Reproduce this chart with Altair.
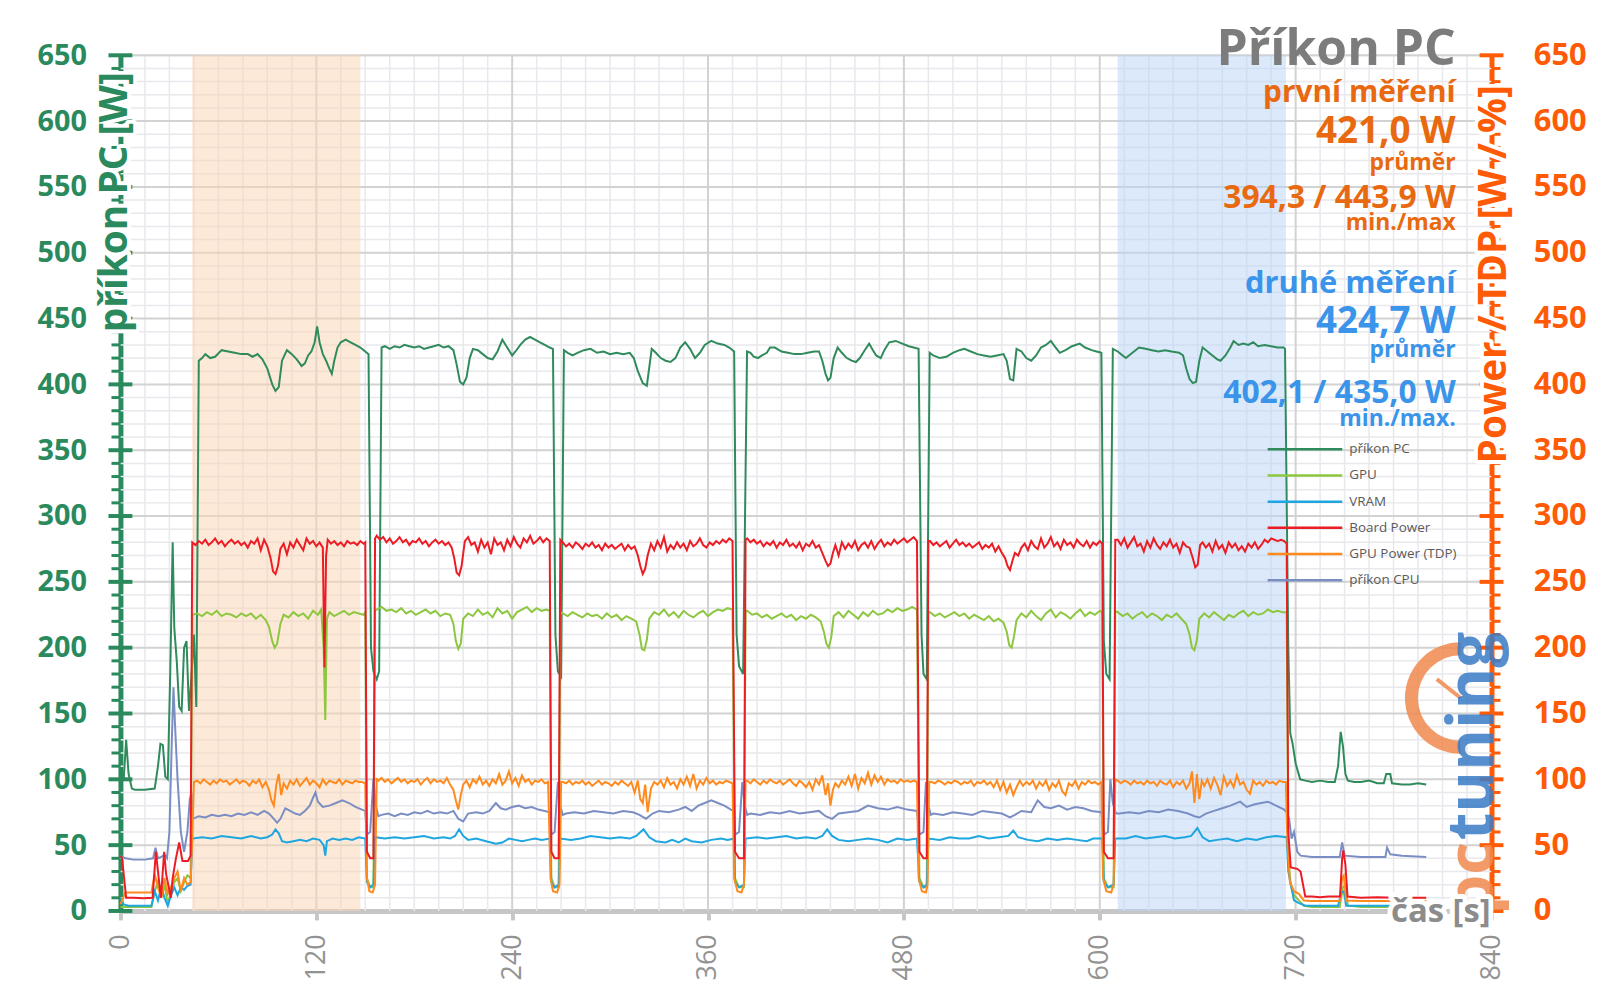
import altair as alt
import pandas as pd

# ---------------- data (time [s], value [W]) ----------------
pc_data = [
    (0, 98), (2, 100), (3.5, 130), (5, 104), (7, 93), (9, 92), (15, 92), (21, 93), (23, 110), (24.5, 127),
    (26, 126), (27.5, 102), (29, 100), (30.5, 180), (32, 280), (33, 215), (34.5, 190), (36, 155), (37.5, 152),
    (39, 200), (40.5, 205), (42, 152), (43.5, 178), (45, 210), (46.5, 155), (48, 418),
    (50, 420), (52, 423), (55, 420), (58, 421), (62, 426), (66, 425), (70, 424), (74, 423), (78, 423), (81, 421),
    (84, 423), (87, 419), (90, 412), (93, 400), (95, 395), (97, 398), (99, 418), (102, 426), (105, 423), (108, 419),
    (111, 414), (113, 416), (115, 422), (117, 425), (119, 432), (120.5, 444), (122, 432), (124, 423), (126, 418),
    (128, 412), (129.5, 408), (131, 418), (133, 428), (135, 432), (138, 434), (141, 432), (144, 430), (147, 428),
    (150, 425), (152, 423),
    (153.5, 200), (155, 182), (157, 176), (158.5, 182), (160, 428),
    (162, 429), (165, 427), (168, 429), (171, 428), (174, 430), (177, 429), (180, 428), (183, 429), (186, 427),
    (189, 428), (192, 429), (195, 430), (198, 428), (201, 429), (204, 426), (206, 415), (208, 402), (210, 400),
    (212, 405), (214, 420), (216, 427), (219, 426), (222, 423), (225, 420), (228, 419), (231, 425), (234, 434),
    (236, 430), (238, 426), (240, 422), (242, 425), (245, 430), (248, 434), (251, 436), (254, 434), (257, 432),
    (260, 430), (263, 428), (265, 427),
    (266.5, 210), (268, 182), (270, 178), (271.7, 426),
    (274, 424), (277, 422), (280, 424), (284, 426), (288, 427), (292, 424), (296, 425), (300, 423), (304, 424),
    (308, 423), (312, 424), (314.5, 420), (317, 410), (320, 401), (322.5, 399), (325.5, 427), (328, 424),
    (331, 420), (334, 418), (337, 417), (340, 420), (343, 428), (346, 432), (349, 427), (352, 420), (355, 424),
    (358, 430), (362, 433), (366, 431), (370, 430), (373, 428), (376, 425),
    (377.5, 210), (379, 186), (381.5, 180), (383.9, 425),
    (386, 424), (388, 421), (390.6, 420), (393, 422), (396, 424), (398, 428), (401, 428), (405, 425), (409, 424),
    (413, 423), (417, 423), (421, 424), (425, 425), (428, 425), (430, 418), (432, 408), (433.5, 403), (435, 405),
    (437, 420), (439.4, 428), (442, 424), (445, 420), (448, 418), (450.6, 417), (453, 420), (456, 426),
    (458.7, 431), (461, 426), (463, 422), (465.8, 420), (468, 426), (471, 432), (475, 433), (479, 431),
    (483, 429), (486, 428), (489, 427),
    (490.8, 210), (492, 180), (494, 176), (495.8, 424),
    (498, 422), (502, 420), (506, 421), (510, 424), (514, 426), (517, 427), (521, 425), (525, 423), (529, 422),
    (533, 421), (537, 422), (541, 423), (543, 418), (545, 404), (547, 403), (549, 427), (552, 425), (555, 420),
    (558, 418), (561, 422), (564, 428), (567, 430), (570, 433), (573, 428), (575.5, 424), (579, 426), (583, 429),
    (587.7, 431), (591, 428), (595, 426), (598, 425), (601, 424),
    (602.5, 205), (604, 180), (606, 176), (608, 427),
    (611, 425), (614, 422), (616, 420), (620, 424), (624, 428), (628, 427), (632, 426), (636, 425), (640, 426),
    (644, 425), (648.6, 424), (651, 422), (653, 412), (655, 404), (657, 401), (659, 402), (661, 418), (663, 428),
    (666, 425), (669, 422), (672, 419), (674, 418), (677, 422), (680, 428), (682, 433), (685, 430), (688, 431),
    (691, 430), (694, 432), (697, 429), (701, 430), (705, 429), (709, 428), (712.6, 428), (713.5, 427),
    (715.5, 200), (716.7, 135), (718, 128), (720, 112), (722.8, 100), (726, 99), (730, 98), (735, 99), (740, 98),
    (744, 98), (746, 110), (747.6, 136), (749, 125), (750.5, 104), (752, 99), (756, 98), (760, 98), (765, 99),
    (770, 97), (774, 97), (775.5, 104), (778, 104), (779, 97), (785, 96), (790, 96), (795, 97), (800, 96),
]

board_data = [
    (0, 42), (1, 40), (3.5, 10), (8, 10), (14, 9.7), (19.7, 10), (21.7, 45), (23, 30), (24.8, 10), (26.8, 45),
    (28, 28), (30.9, 10), (32, 25), (34, 40), (36, 52), (38, 38), (41.4, 38), (43, 42), (44, 280),
    (46, 278), (48, 281), (50, 279), (52, 282), (54, 278), (56, 280), (58, 283), (60, 279), (62, 281), (64, 277),
    (66, 280), (68, 282), (70, 279), (72, 281), (74, 278), (76, 280), (78, 276), (80, 281), (82, 279), (84, 283),
    (86, 274), (88, 282), (90, 277), (92, 268), (93.5, 258), (95, 256), (96.5, 262), (98, 275), (100, 279),
    (102, 271), (104, 280), (106, 276), (108, 282), (110, 278), (112, 274), (114, 283), (116, 279), (118, 281),
    (120, 277), (122, 280), (124, 276), (125, 185), (126, 270), (127, 282), (129, 279), (131, 281), (133, 278),
    (135, 280), (137, 277), (139, 281), (141, 279), (143, 280), (145, 278), (147, 281), (149, 279), (150, 280),
    (151, 45), (153, 40), (155, 40), (156, 283),
    (157, 285), (159, 282), (161, 284), (163, 280), (165, 283), (167, 279), (169, 281), (171, 284), (173, 280),
    (175, 282), (177, 278), (179, 281), (181, 280), (183, 283), (185, 279), (187, 281), (189, 277), (191, 280),
    (193, 282), (195, 279), (197, 281), (199, 278), (201, 280), (203, 276), (204.5, 268), (206, 257),
    (207.5, 255), (209, 262), (211, 281), (213, 284), (215, 278), (217, 280), (219, 273), (221, 282), (223, 276),
    (225, 280), (227, 271), (229, 283), (231, 278), (233, 280), (235, 274), (237, 282), (239, 277), (241, 284),
    (243, 279), (245, 276), (247, 283), (249, 280), (251, 285), (253, 279), (255, 281), (257, 284), (259, 280),
    (261, 283), (263, 281),
    (264, 45), (266, 40), (268.5, 40), (269.5, 282),
    (271, 280), (273, 277), (275, 279), (277, 276), (279, 280), (281, 278), (283, 275), (285, 279), (287, 277),
    (289, 280), (291, 276), (293, 278), (295, 274), (297, 279), (299, 276), (301, 278), (303, 275), (305, 277),
    (307, 279), (309, 274), (311, 278), (313, 275), (315, 277), (317, 270), (318.5, 262), (320, 256),
    (321.5, 260), (323, 270), (325, 279), (327, 274), (329, 281), (331, 276), (333, 284), (335, 273), (337, 278),
    (339, 275), (341, 280), (343, 276), (345, 279), (347, 274), (349, 281), (351, 277), (353, 279), (355, 283),
    (357, 278), (359, 276), (361, 280), (363, 278), (365, 281), (367, 279), (369, 282), (371, 280), (373, 283),
    (375, 281),
    (376.5, 45), (379, 40), (382, 40), (383, 282),
    (384, 283), (386, 280), (388, 282), (390, 279), (392, 281), (394, 277), (396, 280), (398, 278), (400, 281),
    (402, 276), (404, 280), (406, 278), (408, 282), (410, 277), (412, 279), (414, 276), (416, 280), (418, 274),
    (420, 279), (422, 277), (424, 281), (426, 276), (428, 278), (430, 272), (432, 266), (433.5, 262), (435, 264),
    (436.5, 272), (438, 278), (440, 270), (442, 280), (444, 275), (446, 279), (448, 276), (450, 281), (452, 274),
    (454, 278), (456, 280), (458, 276), (460, 281), (462, 275), (464, 279), (466, 282), (468, 277), (470, 280),
    (472, 278), (474, 282), (476, 279), (478, 281), (480, 283), (482, 280), (484, 282), (486, 284), (488, 281),
    (489.5, 45), (492, 40), (494, 40), (495, 281),
    (496, 281), (498, 278), (500, 280), (502, 277), (504, 279), (506, 281), (508, 276), (510, 279), (512, 282),
    (514, 278), (516, 280), (518, 277), (520, 279), (522, 276), (524, 278), (526, 280), (528, 275), (530, 278),
    (532, 276), (534, 279), (536, 273), (538, 277), (540, 272), (542, 268), (543.5, 262), (545, 259),
    (546.5, 266), (548, 272), (550, 270), (552, 276), (554, 279), (556, 274), (558, 281), (560, 277), (562, 275),
    (564, 283), (566, 276), (568, 279), (570, 284), (572, 277), (574, 280), (576, 275), (578, 282), (580, 278),
    (582, 280), (584, 276), (586, 282), (588, 279), (590, 277), (592, 281), (594, 276), (596, 280), (598, 278),
    (600, 281), (601.5, 279),
    (602.5, 45), (605, 40), (608.5, 40), (609.5, 282),
    (611, 282), (613, 278), (615, 283), (617, 276), (619, 280), (621, 284), (623, 277), (625, 279), (627, 273),
    (629, 281), (631, 276), (633, 283), (635, 278), (637, 275), (639, 280), (641, 277), (643, 282), (645, 276),
    (647, 279), (649, 272), (651, 280), (653, 277), (655, 276), (657, 268), (658.5, 261), (660, 263),
    (661.5, 278), (663, 280), (665, 276), (667, 279), (669, 273), (671, 281), (673, 275), (675, 278), (677, 272),
    (679, 280), (681, 276), (683, 279), (685, 274), (687, 277), (689, 273), (691, 279), (693, 276), (695, 280),
    (697, 275), (699, 278), (701, 282), (703, 280), (705, 283), (707, 282), (709, 281), (711, 282), (713, 281),
    (714.5, 279),
    (715.5, 60), (717, 33), (721, 32), (723, 30), (725.9, 11), (730, 11), (735, 10.5), (740, 11), (747.2, 11),
    (748.5, 40), (749.2, 46), (750.5, 35), (751.8, 11), (760, 10), (770, 10.5), (780, 10), (790, 10), (800, 10),
]

gpu_data = [
    (0, 3), (5, 3), (19, 3), (21, 15), (23, 22), (25, 10), (27, 20), (29, 5), (31, 15), (33, 22), (35, 25),
    (37, 15), (39, 22), (41, 27), (43, 25), (44, 225),
    (47, 226), (50, 224), (53, 227), (56, 225), (59, 228), (62, 224), (65, 226), (68, 225), (71, 223), (74, 226),
    (77, 224), (80, 226), (83, 222), (86, 225), (89, 221), (91, 216), (93, 205), (94.5, 200), (96, 203), (98, 218),
    (100, 225), (103, 223), (106, 227), (109, 224), (112, 226), (115, 222), (118, 228), (121, 225), (123, 229),
    (124.5, 200), (125.5, 145), (126.5, 222), (128, 227), (131, 224), (134, 226), (137, 228), (140, 225),
    (143, 227), (146, 226), (149, 225), (150, 227),
    (151, 25), (153, 18), (155, 18), (156, 228),
    (157, 229), (160, 231), (163, 228), (166, 229), (169, 227), (172, 230), (175, 226), (178, 228), (181, 225),
    (184, 227), (187, 229), (190, 226), (193, 228), (196, 224), (199, 226), (202, 225), (204, 218), (205.5, 205),
    (207, 199), (208.5, 203), (210, 222), (213, 226), (216, 224), (219, 229), (222, 225), (225, 227), (228, 223),
    (231, 230), (234, 226), (237, 228), (240, 222), (243, 227), (246, 229), (249, 231), (252, 227), (255, 230),
    (258, 228), (261, 229), (263, 228),
    (264, 25), (266, 18), (268.5, 18), (269.5, 227),
    (271, 226), (274, 224), (277, 227), (280, 225), (283, 223), (286, 226), (289, 224), (292, 225), (295, 222),
    (298, 226), (301, 223), (304, 225), (307, 221), (310, 224), (313, 222), (316, 220), (318, 210), (319.5, 199),
    (321, 198), (322.5, 206), (324, 222), (327, 227), (330, 225), (333, 229), (336, 224), (339, 227), (342, 223),
    (345, 228), (348, 225), (351, 223), (354, 226), (357, 228), (360, 224), (363, 227), (366, 229), (369, 228),
    (372, 230), (375, 229),
    (376.5, 25), (379, 18), (382, 18), (383, 228),
    (384, 228), (387, 225), (390, 226), (393, 223), (396, 225), (399, 222), (402, 224), (405, 226), (408, 223),
    (411, 225), (414, 221), (417, 224), (420, 222), (423, 225), (426, 223), (429, 220), (431, 212), (432.5, 203),
    (434, 200), (435.5, 208), (437, 224), (440, 227), (443, 223), (446, 228), (449, 225), (452, 222), (455, 227),
    (458, 224), (461, 228), (464, 225), (467, 226), (470, 229), (473, 227), (476, 230), (479, 228), (482, 229),
    (485, 231), (488, 229),
    (489.5, 25), (492, 18), (494, 18), (495, 227),
    (496, 227), (499, 224), (502, 226), (505, 223), (508, 225), (511, 227), (514, 224), (517, 226), (520, 222),
    (523, 225), (526, 223), (529, 221), (532, 224), (535, 220), (538, 222), (541, 219), (543, 212), (544.5, 202),
    (546, 200), (547.5, 209), (549, 221), (552, 226), (555, 223), (558, 228), (561, 224), (564, 221), (567, 226),
    (570, 229), (573, 223), (576, 227), (579, 225), (582, 222), (585, 226), (588, 229), (591, 224), (594, 227),
    (597, 225), (600, 228), (601.5, 227),
    (602.5, 25), (605, 18), (608.5, 18), (609.5, 228),
    (611, 227), (614, 224), (617, 226), (620, 222), (623, 225), (626, 227), (629, 223), (632, 226), (635, 224),
    (638, 221), (641, 225), (644, 223), (647, 226), (650, 222), (653, 218), (655, 210), (656.5, 200), (658, 198),
    (659.5, 206), (661, 222), (664, 226), (667, 223), (670, 227), (673, 224), (676, 221), (679, 225), (682, 223),
    (685, 226), (688, 228), (691, 224), (694, 227), (697, 225), (700, 226), (703, 229), (706, 227), (709, 228),
    (712, 227), (714.5, 227),
    (715.5, 40), (717, 20), (719, 12), (722, 8), (725, 4), (730, 3), (747, 3), (749, 18), (750.5, 20), (752, 4),
    (760, 3), (800, 3),
]

vram_data = [
    (0, 10), (2, 5), (5, 4), (19, 4), (21, 15), (23, 8), (25, 18), (27, 10), (29, 4), (31, 12), (33, 18), (35, 12),
    (37, 18), (39, 16), (41, 19), (43, 20), (44, 55),
    (50, 56), (56, 55), (62, 57), (68, 56), (74, 55), (80, 57), (86, 55), (90, 56), (93, 58), (95, 62), (97, 59),
    (99, 53), (102, 52), (106, 53), (110, 54), (114, 53), (118, 55), (122, 54), (124.5, 50), (125.5, 42),
    (126.5, 53), (130, 55), (134, 54), (138, 55), (142, 54), (146, 56), (150, 55),
    (151, 22), (153, 18), (155, 20), (156, 56),
    (162, 55), (168, 56), (174, 55), (180, 56), (186, 57), (192, 55), (198, 56), (202, 55), (205, 57), (207.5, 62),
    (210, 57), (213, 54), (218, 55), (224, 53), (230, 51), (234, 52), (238, 55), (242, 54), (246, 53), (250, 54),
    (254, 55), (258, 54), (263, 55),
    (264, 22), (266, 18), (268.5, 20), (269.5, 55),
    (276, 54), (282, 55), (288, 57), (294, 56), (300, 55), (306, 56), (312, 55), (316, 57), (320.5, 62), (324, 56),
    (328, 53), (334, 52), (338, 54), (342, 52), (346, 55), (350, 53), (356, 52), (362, 54), (368, 55), (372, 54),
    (376, 55),
    (376.5, 22), (379, 18), (382, 20), (383, 55),
    (390, 56), (396, 55), (402, 56), (408, 57), (414, 55), (420, 56), (426, 55), (430, 57), (433, 62), (436, 57),
    (440, 54), (446, 53), (452, 54), (458, 55), (464, 54), (470, 52), (476, 55), (482, 54), (488, 55),
    (489.5, 22), (492, 18), (494, 20), (495, 55),
    (502, 54), (508, 56), (514, 55), (520, 55), (526, 57), (532, 55), (538, 56), (544, 57), (547, 61), (550, 56),
    (556, 54), (562, 53), (568, 55), (574, 54), (580, 55), (586, 54), (592, 53), (596, 55), (601.5, 55),
    (602.5, 22), (605, 18), (608.5, 20), (609.5, 55),
    (616, 55), (622, 57), (628, 55), (634, 56), (640, 57), (646, 55), (652, 56), (656, 57), (659.8, 63), (663, 56),
    (667, 53), (672, 54), (678, 55), (684, 53), (690, 55), (696, 54), (702, 56), (708, 57), (714.5, 56),
    (715.5, 30), (717, 20), (719, 8), (722, 6), (726, 4), (746, 4), (748, 14), (749.5, 15), (751, 4), (760, 4),
    (800, 4),
]

cpu_data = [
    (0, 42), (3, 40), (8, 39), (15, 39), (20, 40), (21.5, 48), (23, 40), (25, 41), (27, 43), (28.5, 40), (30, 60),
    (31.5, 130), (32.5, 170), (33.5, 140), (35, 100), (37, 60), (39, 45), (41, 60), (42.5, 85), (43.5, 90),
    (44.5, 70),
    (48, 72), (52, 71), (56, 73), (60, 72), (64, 73), (68, 72), (72, 74), (76, 73), (80, 75), (84, 73), (88, 76),
    (91, 74), (94, 70), (96, 67), (98, 70), (101, 78), (104, 76), (107, 74), (110, 73), (113, 76), (116, 80),
    (118, 86), (119.5, 90), (121, 83), (124, 79), (128, 80), (132, 82), (136, 84), (140, 82), (144, 79), (148, 77),
    (150, 76),
    (151, 58), (153, 60), (155, 100), (156.5, 80), (158, 72),
    (160, 73), (164, 74), (168, 72), (172, 74), (176, 73), (180, 75), (184, 74), (188, 76), (192, 74), (196, 75),
    (200, 74), (204, 76), (207, 70), (210, 68), (213, 74), (218, 75), (222, 74), (226, 76), (230, 82), (233, 78),
    (236, 77), (240, 79), (244, 80), (248, 78), (252, 79), (256, 77), (260, 76), (263, 75),
    (264, 58), (266, 60), (268, 98), (269.5, 80), (271, 73),
    (273, 74), (278, 75), (284, 74), (290, 76), (296, 75), (302, 74), (308, 76), (314, 75), (318, 73), (322, 70),
    (326, 74), (330, 76), (336, 75), (342, 77), (346, 79), (350, 76), (354, 80), (358, 82), (362, 84), (366, 82),
    (370, 80), (374, 77), (376, 76),
    (376.5, 58), (379, 60), (381, 98), (382.5, 80), (384, 73),
    (386, 74), (392, 73), (398, 75), (404, 74), (410, 76), (416, 74), (422, 75), (428, 76), (432, 72), (436, 70),
    (440, 74), (446, 75), (452, 76), (458, 80), (464, 78), (470, 77), (476, 79), (482, 77), (488, 76),
    (489.5, 58), (492, 60), (493.5, 98), (495, 80), (496.5, 73),
    (498, 74), (504, 73), (510, 75), (516, 74), (522, 73), (528, 76), (534, 75), (540, 74), (545, 71), (548, 73),
    (552, 76), (558, 75), (562, 84), (566, 79), (570, 78), (575, 80), (580, 77), (585, 79), (590, 78), (595, 76),
    (601, 75),
    (602.5, 58), (605, 60), (606.5, 100), (608, 82), (610, 74),
    (612, 74), (618, 75), (624, 74), (630, 76), (636, 75), (642, 77), (648, 76), (654, 74), (658, 72), (661, 71),
    (665, 74), (670, 76), (675, 78), (680, 80), (686, 83), (690, 79), (695, 81), (699, 82), (703, 83), (708, 80),
    (713, 77),
    (714.5, 75), (716, 70), (717.5, 55), (719, 60), (721, 45), (723, 42), (730, 41), (740, 41), (747, 41),
    (748.5, 52), (750, 42), (760, 41), (770, 41), (775, 41), (776, 48), (778, 43), (785, 42), (800, 41),
]

tdp_data = [
    (0, 5), (3, 14), (8, 14), (19, 14), (21, 28), (23, 18), (25, 10), (27, 25), (29, 13), (31, 18), (33, 25),
    (35, 30), (37, 15), (39, 25), (41, 20), (43, 22), (44, 55), (45, 98),
    (47, 99), (49, 97), (51, 100), (53, 98), (55, 96), (57, 99), (59, 97), (61, 100), (63, 98), (65, 99), (67, 96),
    (69, 98), (71, 100), (73, 97), (75, 99), (77, 98), (79, 95), (81, 99), (83, 97), (85, 100), (87, 94), (89, 98),
    (91, 92), (92.5, 84), (94, 80), (95.5, 96), (97, 104), (98.5, 88), (100, 97), (102, 93), (104, 99), (106, 96),
    (108, 100), (110, 95), (112, 98), (114, 101), (116, 96), (118, 99), (120, 97), (122, 94), (124, 100),
    (126, 96), (128, 99), (130, 98), (132, 97), (134, 100), (136, 96), (138, 99), (140, 98), (142, 97), (144, 99),
    (146, 98), (148, 98), (150, 97),
    (151, 25), (152.5, 15), (154.5, 14), (156, 20), (157, 100),
    (158, 99), (160, 101), (162, 98), (164, 100), (166, 97), (168, 99), (170, 101), (172, 98), (174, 100),
    (176, 97), (178, 99), (180, 98), (182, 100), (184, 96), (186, 99), (188, 101), (190, 97), (192, 100),
    (194, 98), (196, 99), (198, 97), (200, 101), (202, 96), (204, 92), (205.5, 84), (207, 77), (208.5, 88),
    (210, 96), (212, 99), (214, 94), (216, 100), (218, 97), (220, 102), (222, 96), (224, 99), (226, 95), (228, 100),
    (230, 97), (232, 104), (234, 96), (236, 99), (238, 106), (240, 97), (242, 101), (244, 95), (246, 103),
    (248, 98), (250, 100), (252, 96), (254, 99), (256, 98), (258, 100), (260, 97), (262, 98),
    (263.5, 25), (265, 15), (267.5, 14), (269, 20), (270, 98),
    (271, 98), (273, 97), (275, 99), (277, 96), (279, 98), (281, 97), (283, 99), (285, 96), (287, 98), (289, 95),
    (291, 97), (293, 99), (295, 96), (297, 98), (299, 97), (301, 95), (303, 98), (305, 96), (307, 99), (309, 97),
    (311, 95), (313, 98), (315, 90), (317, 99), (318.5, 85), (320, 82), (321.5, 96), (323, 75), (325, 93),
    (327, 98), (329, 96), (331, 99), (333, 94), (335, 101), (337, 96), (339, 98), (341, 93), (343, 100), (345, 96),
    (347, 102), (349, 95), (351, 104), (353, 93), (355, 99), (357, 96), (359, 101), (361, 97), (363, 99),
    (365, 96), (367, 98), (369, 97), (371, 99), (373, 98), (375, 97),
    (376, 25), (378, 15), (380.5, 14), (382, 20), (383, 99),
    (384, 99), (386, 97), (388, 100), (390, 98), (392, 96), (394, 99), (396, 97), (398, 100), (400, 98), (402, 97),
    (404, 99), (406, 96), (408, 98), (410, 100), (412, 97), (414, 95), (416, 99), (418, 97), (420, 94), (422, 98),
    (424, 92), (426, 100), (428, 96), (430, 103), (432, 88), (433.5, 97), (435, 80), (436.5, 92), (438, 97),
    (440, 94), (442, 99), (444, 96), (446, 102), (448, 95), (450, 104), (452, 93), (454, 101), (456, 97),
    (458, 105), (460, 96), (462, 103), (464, 98), (466, 102), (468, 96), (470, 100), (472, 98), (474, 99),
    (476, 97), (478, 100), (480, 98), (482, 99), (484, 98), (486, 99), (488, 98),
    (489, 25), (491, 15), (493.5, 14), (494.5, 20), (495.5, 98),
    (497, 98), (499, 97), (501, 99), (503, 98), (505, 96), (507, 98), (509, 97), (511, 99), (513, 98), (515, 96),
    (517, 98), (519, 97), (521, 99), (523, 95), (525, 98), (527, 97), (529, 99), (531, 96), (533, 98), (535, 94),
    (537, 99), (539, 92), (541, 98), (543, 90), (545, 96), (547, 88), (549, 94), (551, 99), (553, 95), (555, 98),
    (557, 96), (559, 99), (561, 93), (563, 98), (565, 95), (567, 99), (569, 92), (571, 97), (573, 94), (575, 99),
    (577, 91), (579, 88), (581, 97), (583, 95), (585, 99), (587, 93), (589, 98), (591, 96), (593, 99), (595, 97),
    (597, 98), (599, 96), (601, 98),
    (602, 25), (604, 15), (607, 14), (608.5, 20), (609.5, 100),
    (611, 99), (613, 97), (615, 99), (617, 98), (619, 96), (621, 99), (623, 97), (625, 98), (627, 96), (629, 99),
    (631, 97), (633, 98), (635, 95), (637, 99), (639, 97), (641, 96), (643, 99), (645, 94), (647, 98), (649, 96),
    (651, 99), (653, 93), (655, 97), (656.5, 106), (658, 82), (659.5, 104), (661, 85), (662.5, 99), (664, 95),
    (666, 100), (668, 93), (670, 101), (672, 96), (674, 88), (676, 102), (678, 95), (680, 99), (682, 94),
    (684, 103), (686, 96), (688, 98), (690, 92), (692, 89), (694, 99), (696, 96), (698, 98), (700, 95), (702, 99),
    (704, 97), (706, 98), (708, 96), (710, 99), (712, 98), (714, 98),
    (715, 50), (716.5, 22), (719, 15), (722, 13), (725, 8), (730, 7.5), (747, 7.5), (748.5, 25), (749.5, 27),
    (751, 8), (760, 7.5), (800, 7.5),
]

series_names = ["příkon PC", "GPU", "VRAM", "Board Power", "GPU Power (TDP)", "příkon CPU"]
series_colors = ["#2f8a5c", "#8dc63f", "#1da6df", "#ec1c24", "#ff8a1d", "#7b8ec4"]
series_data = [pc_data, gpu_data, vram_data, board_data, tdp_data, cpu_data]
draw_order = ["příkon PC", "GPU", "příkon CPU", "VRAM", "GPU Power (TDP)", "Board Power"]

band_start = [44, 611]
band_end = [147, 714]
band_colors = ["#fbd3b1", "#b8d3f5"]

x_tick_values = [0, 120, 240, 360, 480, 600, 720, 840]
y_tick_values = [0, 50, 100, 150, 200, 250, 300, 350, 400, 450, 500, 550, 600, 650]

first_label = "první měření"
first_avg = "421,0 W"
first_minmax = "394,3 / 443,9 W"
second_label = "druhé měření"
second_avg = "424,7 W"
second_minmax = "402,1 / 435,0 W"

# ---------------- styling / layout ----------------
W, H = 1378, 860
FONT = "Open Sans"
GREEN = "#2b8a5d"
RORANGE = "#ff5a06"
ORANGE_T = "#e8690f"
BLUE_T = "#3a94ea"

xs = alt.Scale(domain=[0, 840], nice=False, zero=False)
ys = alt.Scale(domain=[0, 650], nice=False, zero=True)

XAX = alt.Axis(values=x_tick_values, labelAngle=270, labelFont=FONT, labelFontSize=27,
               labelColor="#939393", tickColor="#c6c6c6", tickWidth=4, tickSize=9,
               domainColor="#c6c6c6", domainWidth=5, labelPadding=14, grid=False, title=None)


def X(field):
    return alt.X(field, scale=xs, axis=XAX)


layers = []

# minor grid
vminor = pd.DataFrame({"g": [t for t in range(0, 841, 15) if t % 120 != 0]})
hminor = pd.DataFrame({"g": [v for v in range(0, 651, 10) if v % 50 != 0]})
layers.append(alt.Chart(vminor).mark_rule(color="#e8e8ed", strokeWidth=1.5).encode(x=X("g:Q")))
layers.append(alt.Chart(hminor).mark_rule(color="#e8e8ed", strokeWidth=1.5).encode(
    y=alt.Y("g:Q", scale=ys, axis=None)))
# major grid
vmajor = pd.DataFrame({"g": x_tick_values[1:-1]})
hmajor = pd.DataFrame({"g": y_tick_values[1:]})
layers.append(alt.Chart(vmajor).mark_rule(color="#d2d2d2", strokeWidth=2).encode(x=X("g:Q")))
layers.append(alt.Chart(hmajor).mark_rule(color="#d2d2d2", strokeWidth=2).encode(
    y=alt.Y("g:Q", scale=ys, axis=None)))

# shaded bands
bands = pd.DataFrame({"a": band_start, "b": band_end, "c": band_colors})
layers.append(alt.Chart(bands).mark_rect(opacity=0.5).encode(
    x=X("a:Q"), x2="b:Q",
    y=alt.value(0), y2=alt.value(H),
    color=alt.Color("c:N", scale=None)))

# series lines
for name in draw_order:
    i = series_names.index(name)
    pts = series_data[i]
    df = pd.DataFrame({"t": [p[0] for p in pts], "v": [p[1] for p in pts]})
    if name == "příkon PC":
        yenc = alt.Y("v:Q", scale=ys, axis=alt.Axis(
            orient="left", values=y_tick_values, labelFont=FONT, labelFontSize=29,
            labelFontWeight="bold", labelColor=GREEN, labelPadding=34, ticks=False, tickSize=0,
            domainColor=GREEN, domainWidth=5, grid=False, title=None))
    else:
        yenc = alt.Y("v:Q", scale=ys, axis=None)
    layers.append(alt.Chart(df).mark_line(strokeWidth=2, color=series_colors[i]).encode(
        x=X("t:Q"), y=yenc, order="t:Q"))

# axis ticks (left green, right orange)
minor_ticks = pd.DataFrame({"tv": [v for v in range(0, 651, 10) if v % 50 != 0]})
major_ticks = pd.DataFrame({"tv": y_tick_values})
layers.append(alt.Chart(minor_ticks).mark_rule(color=GREEN, strokeWidth=3).encode(
    x=alt.value(-9), x2=alt.value(0), y=alt.Y("tv:Q", scale=ys, axis=None)))
layers.append(alt.Chart(major_ticks).mark_rule(color=GREEN, strokeWidth=4).encode(
    x=alt.value(-12), x2=alt.value(12), y=alt.Y("tv:Q", scale=ys, axis=None)))
layers.append(alt.Chart(minor_ticks).mark_rule(color=RORANGE, strokeWidth=3).encode(
    x=alt.value(W), x2=alt.value(W + 9), y=alt.Y("tv:Q", scale=ys, axis=None)))
layers.append(alt.Chart(major_ticks).mark_rule(color=RORANGE, strokeWidth=4).encode(
    x=alt.value(W - 12), x2=alt.value(W + 12),
    y=alt.Y("tv:Q", scale=ys, axis=alt.Axis(
        orient="right", values=y_tick_values, labelFont=FONT, labelFontSize=31,
        labelFontWeight="bold", labelColor=RORANGE, labelPadding=42, ticks=False, tickSize=0,
        domainColor=RORANGE, domainWidth=5, grid=False, title=None))))

one = pd.DataFrame({"a": [0]})


def text_layer(txt, color, size, x, y, align="right", baseline="alphabetic", angle=0, glow=0, weight="bold",
               opacity=1.0):
    out = []
    kw = dict(text=txt, fontSize=size, font=FONT, fontWeight=weight, align=align, baseline=baseline)
    if angle:
        kw["angle"] = angle
    if glow:
        out.append(alt.Chart(one).mark_text(color="white", stroke="white", strokeWidth=glow,
                                            strokeJoin="round", **kw).encode(x=alt.value(x), y=alt.value(y)))
    out.append(alt.Chart(one).mark_text(color=color, opacity=opacity, **kw).encode(
        x=alt.value(x), y=alt.value(y)))
    return out


# logo watermark (approximation)
layers.append(alt.Chart(one).mark_arc(theta=3.1416, theta2=6.2832, radius=56, radius2=43,
                                      color="#f08a4e", opacity=0.85).encode(
    x=alt.value(1347), y=alt.value(646)))
layers.append(alt.Chart(one).mark_rule(color="#f08a4e", strokeWidth=4, opacity=0.85).encode(
    x=alt.value(1323), x2=alt.value(1347), y=alt.value(627), y2=alt.value(646)))
layers += text_layer("tuning", "#3a7bc6", 64, 1380, 789, align="left", angle=270, opacity=0.85)
layers += text_layer("pc", "#f08a4e", 64, 1380, 864, align="left", angle=270, opacity=0.85)

# legend
leg_y0, leg_dy = 396, 26.3
for k, name in enumerate(series_names):
    yy = leg_y0 + k * leg_dy
    layers.append(alt.Chart(one).mark_rule(color=series_colors[k], strokeWidth=2.5).encode(
        x=alt.value(1153), x2=alt.value(1228), y=alt.value(yy)))
    layers.append(alt.Chart(one).mark_text(text=name, font=FONT, fontSize=13.5, color="#5a5a5a",
                                           align="left", baseline="middle").encode(
        x=alt.value(1235), y=alt.value(yy)))

# titles / stats block
TX = 1342
layers += text_layer("Příkon PC", "#7c7c7c", 50, TX, 10)
stats = [
    (first_label, ORANGE_T, 30, 47), (first_avg, ORANGE_T, 37, 88), ("průměr", ORANGE_T, 23, 115),
    (first_minmax, ORANGE_T, 32, 153), ("min./max", ORANGE_T, 23, 176),
    (second_label, BLUE_T, 31, 239), (second_avg, BLUE_T, 37, 279), ("průměr", BLUE_T, 23, 303),
    (second_minmax, BLUE_T, 32, 349), ("min./max.", BLUE_T, 23, 373),
]
for txt, col, fs, by in stats:
    layers += text_layer(txt, col, fs, TX, by)

# axis titles
layers += text_layer("příkon PC [W]", GREEN, 39, -5, 17, align="right", baseline="middle", angle=270, glow=8)
layers += text_layer("Power / TDP [W / %]", RORANGE, 39, 1381, 30, align="right", baseline="middle",
                     angle=270, glow=8)
layers += text_layer("čas [s]", "#8c8c8c", 33, 1277, 871, align="left", glow=10)

chart = alt.layer(*layers).resolve_scale(y="independent").properties(
    width=W, height=H,
    autosize=alt.AutoSizeParams(type="none"),
    padding={"left": 113, "top": 45, "right": 101, "bottom": 95},
    background="white",
).configure_view(strokeWidth=0).configure(font=FONT)

chart.save("out.html", embed_options={"renderer": "svg", "actions": False})
